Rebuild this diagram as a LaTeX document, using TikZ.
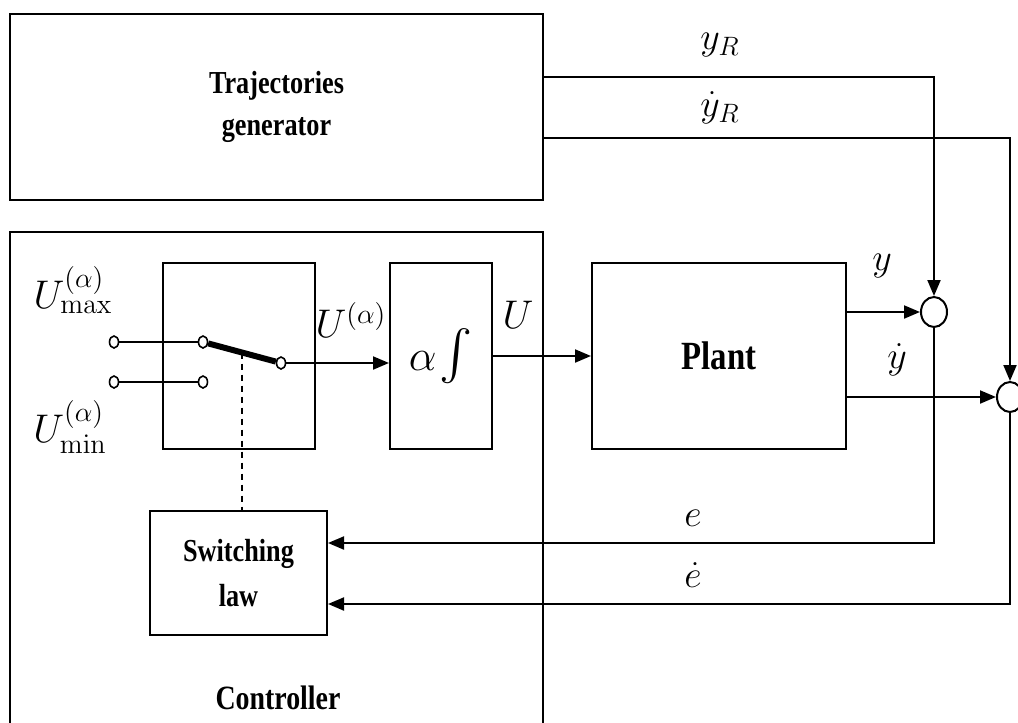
\RequirePackage{fix-cm}
\documentclass[tikz,border=0pt]{standalone}
\usepackage{amsmath}
\usepackage[no-math]{fontspec}
\setmainfont{Liberation Serif}[FakeStretch=0.82]
\usepackage{tikz}
\usetikzlibrary{positioning,arrows.meta,shapes.geometric,calc}
\tikzset{
  blk/.style={draw=black,rectangle,line width=1pt,inner sep=0pt,align=center},
  lbl/.style={font=\fontsize{16}{21}\selectfont\bfseries},
  mlbl/.style={font=\fontsize{19}{22}\selectfont,inner sep=0pt},
  arr/.style={-{Triangle[length=8pt,width=6.5pt]},line width=1pt},
  wire/.style={line width=1pt},
  term/.style={draw,ellipse,line width=0.8pt,fill=white,minimum width=4.5pt,minimum height=6pt,inner sep=0pt},
  sumj/.style={draw,ellipse,line width=1pt,fill=white,minimum width=13pt,minimum height=15pt,inner sep=0pt},
  blade/.style={line width=3pt},
}

\begin{document}
\begin{tikzpicture}[x=0.5pt,y=-0.5pt]
\useasboundingbox (0,0) rectangle (1018,723);

% ==== outer boxes ====
\node[blk,lbl,minimum width=266.5pt,minimum height=93pt] (traj) at (276.5,107)
  {Trajectories\\generator};
\node[blk,minimum width=266.5pt,minimum height=270pt] (ctrl) at (276.5,502) {};
\node[font=\fontsize{17}{20}\selectfont\bfseries] (ctrlname) at (278,698) {Controller};

% ==== inner blocks ====
\node[blk,minimum width=76pt,minimum height=93pt] (swbox) at (239,356) {};
\node[blk,minimum width=51pt,minimum height=93pt] (integ) at (441,356)
  {{\fontsize{22}{26}\selectfont$\alpha$}\,{\fontsize{28}{30}\selectfont$\int$}};
\node[blk,minimum width=127pt,minimum height=93pt,font=\fontsize{20}{24}\selectfont\bfseries] (plant) at (719,356) {Plant};
\node[blk,lbl,minimum width=88.5pt,minimum height=62pt] (swlaw) at (238.5,573)
  {Switching\\[1.5pt]law};

% ==== switch terminals ====
\node[term] (tmaxL) at (114,342) {};
\node[term] (tminL) at (114,382) {};
\node[term] (tmaxR) at (203,342) {};
\node[term] (tminR) at (203,382) {};
\node[term] (tout)  at (281,363) {};

% ==== summing junctions ====
\node[sumj] (sum1) at (934,312) {};
\node[sumj] (sum2) at (1010,397) {};

% ==== labels ====
\node[mlbl,font=\fontsize{20}{24}\selectfont] (lblUmax) at (73,290) {$U^{(\alpha)}_{\max}$};
\node[mlbl,font=\fontsize{20}{24}\selectfont] (lblUmin) at (70,427) {$U^{(\alpha)}_{\min}$};
\node[mlbl,font=\fontsize{20}{24}\selectfont] (lblUa) at (351,320) {$U^{(\alpha)}$};
\node[mlbl,font=\fontsize{20}{24}\selectfont] (lblU) at (518,315) {$U$};
\node[mlbl] (lblyR)  at (720,45)  {$y_R$};
\node[mlbl] (lblydR) at (720,108) {$\dot y_R$};
\node[mlbl] (lbly)   at (882,266) {$y$};
\node[mlbl] (lblyd)  at (897,360) {$\dot y$};
\node[mlbl] (lble)   at (693,518) {$e$};
\node[mlbl] (lbled)  at (693,575) {$\dot e$};

% ==== switch ====
\draw[wire] (tmaxL) -- (tmaxR);
\draw[wire] (tminL) -- (tminR);
\draw[blade] (tmaxR) -- coordinate[pos=0.5] (bmid) (tout);
\draw[line width=0.8pt,dash pattern=on 3pt off 2.5pt] (bmid) -- (bmid |- swlaw.north);

% ==== forward path ====
\draw[arr] (tout) -- (tout -| integ.west);
\draw[arr] (integ.east) -- (plant.west);
\draw[arr] ([yshift=22pt]plant.east) -- (sum1);
\draw[arr] ([yshift=-20.5pt]plant.east) -- (sum2);

% ==== references ====
\draw[arr] ([yshift=15pt]traj.east) -| (sum1.north);
\draw[arr] ([yshift=-15.5pt]traj.east) -| (sum2.north);

% ==== feedback ====
\draw[arr] (sum1.south) |- ([yshift=15pt]swlaw.east);
\draw[arr] (sum2.south) |- ([yshift=-15.5pt]swlaw.east);

\end{tikzpicture}
\end{document}
